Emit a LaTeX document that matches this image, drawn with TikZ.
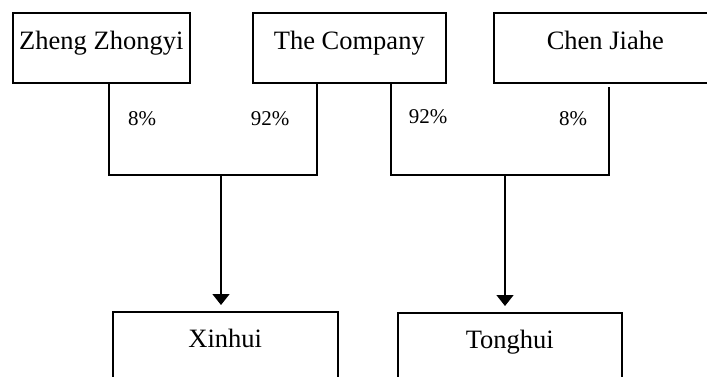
\documentclass[tikz,border=0pt]{standalone}
\usepackage{fontspec}
\setmainfont{Liberation Serif}
\usetikzlibrary{arrows.meta}
\begin{document}
\begin{tikzpicture}[x=1pt,y=-1pt,
  box/.style={draw, line width=1.6pt, rectangle, inner xsep=0pt, inner ysep=0pt,
    font=\fontsize{26.5}{30}\selectfont},
  topbox/.style={box, anchor=north west, text height=37pt, text depth=33pt},
  botbox/.style={box, anchor=north west, text height=36pt, text depth=70pt},
  pct/.style={font=\fontsize{21}{24}\selectfont, anchor=base, inner sep=0pt},
  link/.style={line width=1.6pt},
  arr/.style={link, -{Triangle[width=17pt,length=11pt]}, shorten >=6pt}]
\useasboundingbox (0,0) rectangle (707,377);
\clip (0,0) rectangle (707,377);
% top boxes
\node[topbox, minimum width=177pt] (zz) at (12,12) {Zheng Zhongyi};
\node[topbox, minimum width=193pt] (co) at (252,12) {The Company};
\node[topbox, minimum width=223pt] (cj) at (493,12) {Chen Jiahe};
% bottom boxes
\node[botbox, minimum width=225pt] (xh) at (112,311) {Xinhui};
\node[botbox, minimum width=224pt] (th) at (397,312) {Tonghui};
% junction points
\coordinate (a1) at (109,175);
\coordinate (a2) at (317,175);
\coordinate (j1) at (221,175);
\coordinate (b1) at (391,175);
\coordinate (b2) at (609,175);
\coordinate (j2) at (505,175);
% brackets
\draw[link] (zz.south -| a1) -- (a1) -- (a2) -- (co.south -| a2);
\draw[link] (co.south -| b1) -- (b1) -- (b2) -- ([yshift=-3pt]cj.south -| b2);
% arrows
\draw[arr] (j1) -- (xh.north -| j1);
\draw[arr] (j2) -- (th.north -| j2);
% percentages
\node[pct] (p1) at (142,126) {8\%};
\node[pct] (p2) at (270,126) {92\%};
\node[pct] (p3) at (428,124) {92\%};
\node[pct] (p4) at (573,126) {8\%};
\end{tikzpicture}
\end{document}
